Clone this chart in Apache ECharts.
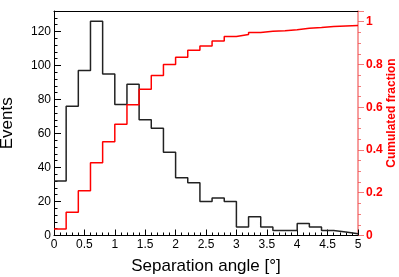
<!DOCTYPE html>
<html>
<head>
<meta charset="utf-8">
<script src="https://cdn.jsdelivr.net/npm/echarts@6/dist/echarts.min.js"></script>
<style>html,body{margin:0;padding:0;background:#fff}#c{width:399px;height:277px}</style>
</head>
<body>
<div id="c"></div>
<script>
var binEdges = [0,0.2,0.4,0.6,0.8,1.0,1.2,1.4,1.6,1.8,2.0,2.2,2.4,2.6,2.8,3.0,3.2,3.4,3.6,3.8,4.0,4.2,4.4,4.6,4.8,5.0];
var events = [32,76,97,126,95,77,89,68,63,49,34,31,20,22,20,5,11,5,3,3,7,5,3,2,1];
var cumulated = [0.03,0.109,0.209,0.34,0.439,0.52,0.611,0.684,0.748,0.80,0.834,0.867,0.886,0.910,0.931,0.94,0.95,0.955,0.958,0.962,0.969,0.973,0.978,0.980,0.982];
var xTitle = 'Separation angle [°]';
var yTitle = 'Events';
var y2Title = 'Cumulated fraction';

function stepData(vals){
  var d = [];
  for (var i = 0; i < vals.length; i++) d.push([binEdges[i], vals[i]]);
  d.push([binEdges[vals.length], vals[vals.length-1]]);
  return d;
}
var FONT = "'Liberation Sans', Arial, sans-serif";
var RED_AX = 'rgba(240,80,80,0.75)';
var chart = echarts.init(document.getElementById('c'));
chart.setOption({
  animation: false,
  grid: {left: 54, right: 41, top: 11, bottom: 41.5, containLabel: false, outerBoundsMode: 'none'},
  graphic: [{
    type: 'text', x: 392, y: 113, rotation: Math.PI / 2,
    style: {text: y2Title, fill: '#ff0000', font: 'bold 12px ' + FONT, align: 'center', verticalAlign: 'middle'}
  }],
  xAxis: [{
    type: 'value', min: 0, max: 5, interval: 0.5, position: 'bottom',
    axisLine: {onZero: false, lineStyle: {color: '#000', width: 1}},
    axisTick: {inside: true, length: 6, lineStyle: {color: '#000'}},
    minorTick: {show: true, splitNumber: 5, length: 3, lineStyle: {color: '#000'}},
    splitLine: {show: false},
    axisLabel: {fontSize: 12, color: '#000', margin: 3, fontFamily: FONT},
    name: xTitle, nameLocation: 'middle', nameGap: 22,
    nameTextStyle: {fontSize: 17, color: '#000', fontFamily: FONT}
  }, {
    type: 'value', min: 0, max: 5, position: 'top',
    axisLine: {onZero: false, lineStyle: {color: '#000', width: 1}},
    axisTick: {show: false}, axisLabel: {show: false}, splitLine: {show: false}
  }],
  yAxis: [{
    type: 'value', min: 0, max: 132, interval: 20, position: 'left',
    axisLine: {show: true, onZero: false, lineStyle: {color: '#000', width: 1}},
    axisTick: {inside: true, length: 7, lineStyle: {color: '#000'}},
    minorTick: {show: true, splitNumber: 5, length: 3.5, lineStyle: {color: '#000'}},
    splitLine: {show: false},
    axisLabel: {fontSize: 12, color: '#000', margin: 3, fontFamily: FONT, showMaxLabel: false},
    name: yTitle, nameLocation: 'middle', nameGap: 38,
    nameTextStyle: {fontSize: 17, color: '#000', fontFamily: FONT}
  }, {
    type: 'value', min: 0, max: 1.05, interval: 0.2, position: 'right',
    axisLine: {show: true, onZero: false, lineStyle: {color: RED_AX, width: 1.5}},
    axisTick: {inside: false, length: 6, lineStyle: {color: RED_AX}},
    minorTick: {show: true, splitNumber: 4, length: 3, lineStyle: {color: RED_AX}},
    splitLine: {show: false},
    axisLabel: {fontSize: 12, color: '#ff0000', fontWeight: 'bold', margin: 8, fontFamily: FONT, showMaxLabel: false}
  }],
  series: [{
    type: 'line', xAxisIndex: 0, yAxisIndex: 0, step: 'end', symbol: 'none',
    data: stepData(events),
    lineStyle: {color: '#222', width: 1.5}
  }, {
    type: 'line', xAxisIndex: 0, yAxisIndex: 1, step: 'end', symbol: 'none',
    data: stepData(cumulated),
    lineStyle: {color: '#ff0000', width: 1.5}
  }]
});
</script>
</body>
</html>
